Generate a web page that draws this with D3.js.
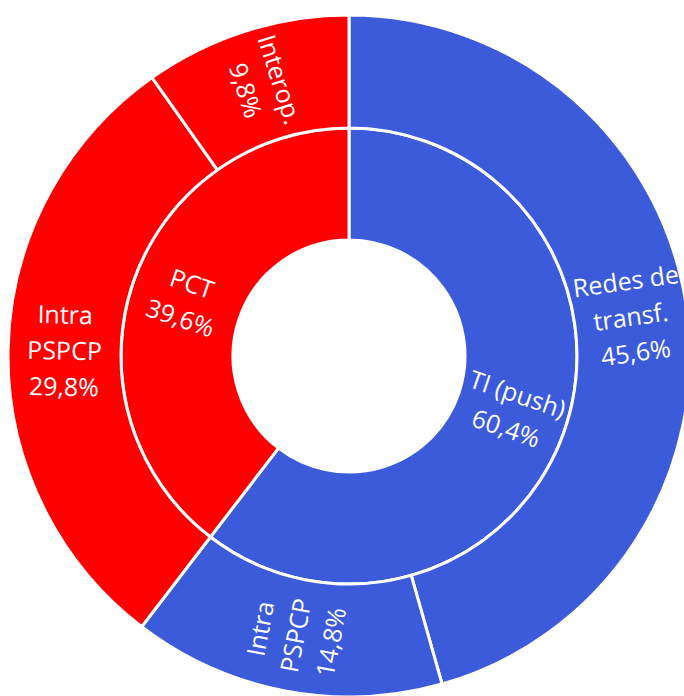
<!DOCTYPE html>
<html>
<head>
<meta charset="utf-8">
<script src="https://cdn.jsdelivr.net/npm/d3@7"></script>
<style>
  html, body { margin: 0; padding: 0; background: #ffffff; }
  svg { display: block; }
</style>
</head>
<body>
<svg id="chart" width="684" height="696"></svg>
<script>
// ---- data ----
const innerNames = ["TI (push)", "PCT"];
const innerLines = [["TI (push)"], ["PCT"]];
const innerValues = [60.4, 39.6];

const outerNames = ["Redes de transf.", "Intra PSPCP", "Intra PSPCP", "Interop."];
const outerLines = [["Redes de", "transf."], ["Intra", "PSPCP"], ["Intra", "PSPCP"], ["Interop."]];
const outerValues = [45.6, 14.8, 29.8, 9.8];
const outerParent = [0, 0, 1, 1];

const groupColors = ["#3B5BDB", "#FF0000"];

// ---- layout ----
const cx = 349, cy = 356;
const r0 = 116, r1 = 228, r2 = 341;
const fontSize = 25, lineH = 36;

const svg = d3.select("#chart");
const g = svg.append("g").attr("transform", `translate(${cx},${cy})`);

const pie = d3.pie().sort(null).value(d => d);
const innerArcs = pie(innerValues);
const outerArcs = pie(outerValues);

const innerArc = d3.arc().innerRadius(r0).outerRadius(r1);
const outerArc = d3.arc().innerRadius(r1).outerRadius(r2);

const fmt = v => d3.format(".1f")(v).replace(".", ",") + "%";

function drawRing(arcs, arcGen, colorIdx) {
  g.append("g").selectAll("path")
    .data(arcs)
    .join("path")
    .attr("d", arcGen)
    .attr("fill", (d, i) => groupColors[colorIdx(i)])
    .attr("stroke", "#ffffff")
    .attr("stroke-width", 3)
    .attr("stroke-linejoin", "miter");
}

drawRing(innerArcs, innerArc, i => i);
drawRing(outerArcs, outerArc, i => outerParent[i]);

function drawLabels(arcs, arcGen, linesArr, values) {
  arcs.forEach((d, i) => {
    const [x, y] = arcGen.centroid(d);
    const mid = (d.startAngle + d.endAngle) / 2 * 180 / Math.PI;
    let rot = mid - 90;
    if (rot > 90) rot -= 180;
    if (rot < -90) rot += 180;
    const lines = linesArr[i].concat([fmt(values[i])]);
    const t = g.append("text")
      .attr("transform", `translate(${x},${y}) rotate(${rot})`)
      .attr("text-anchor", "middle")
      .attr("fill", "#ffffff")
      .attr("font-family", "'Open Sans', Lato, sans-serif")
      .attr("font-size", fontSize);
    const n = lines.length;
    lines.forEach((s, k) => {
      t.append("tspan")
        .attr("x", 0)
        .attr("y", (k - (n - 1) / 2) * lineH)
        .attr("dy", "0.36em")
        .text(s);
    });
  });
}

drawLabels(innerArcs, innerArc, innerLines, innerValues);
drawLabels(outerArcs, outerArc, outerLines, outerValues);
</script>
</body>
</html>
